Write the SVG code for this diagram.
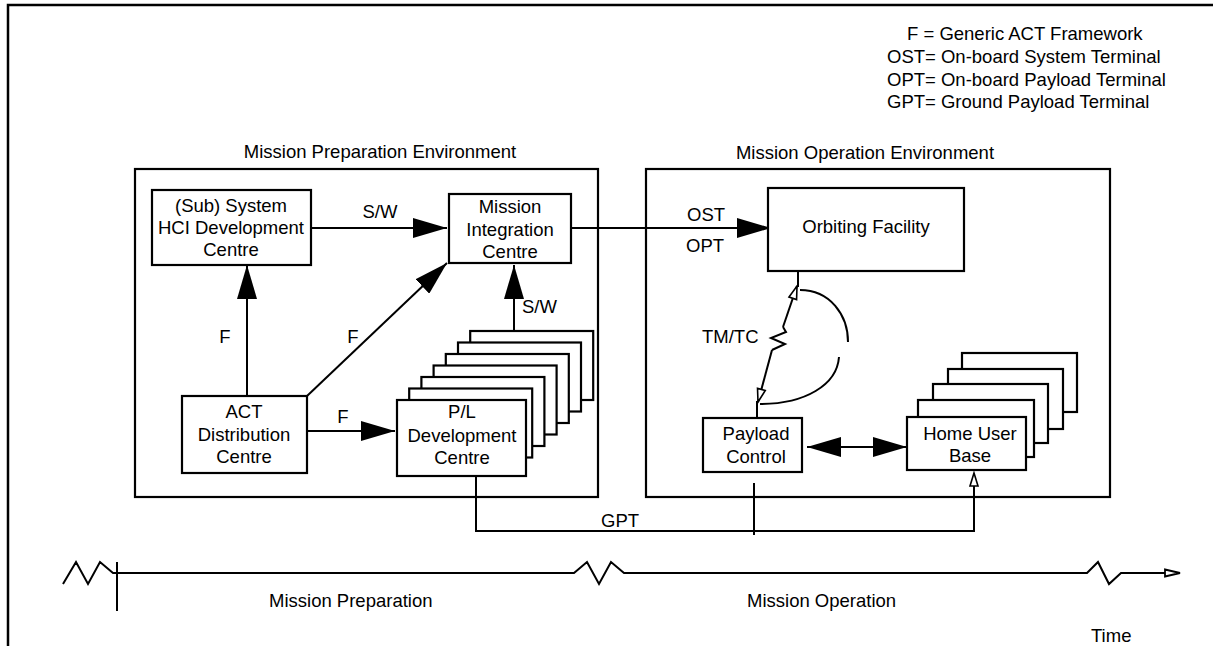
<svg xmlns="http://www.w3.org/2000/svg" width="1213" height="646" viewBox="0 0 1213 646">
<defs>
<style>
text{font-family:"Liberation Sans",Arial,sans-serif;font-size:18.5px;fill:#000}
.m{text-anchor:middle}
.box{fill:#fff;stroke:#000;stroke-width:2.2}
.env{fill:none;stroke:#000;stroke-width:2.2}
.ln{fill:none;stroke:#000;stroke-width:2}
.fa{marker-end:url(#fa)}
.oa{marker-end:url(#oa)}
</style>
<marker id="fa" markerUnits="userSpaceOnUse" markerWidth="34" markerHeight="20" refX="34" refY="10" orient="auto-start-reverse"><path d="M0,0 L34,10 L0,20 z" fill="#000"/></marker>
<marker id="oa" markerUnits="userSpaceOnUse" markerWidth="16" markerHeight="12" refX="14" refY="5" orient="auto" overflow="visible"><path d="M1,1 L14,5 L1,9 z" fill="#fff" stroke="#000" stroke-width="1.6"/></marker>
<marker id="ta" markerUnits="userSpaceOnUse" markerWidth="18" markerHeight="10" refX="16" refY="4" orient="auto" overflow="visible"><path d="M1,0.5 L16,4 L1,7.5 z" fill="#fff" stroke="#000" stroke-width="1.8"/></marker>
</defs>
<rect width="1213" height="646" fill="#fff"/>
<path d="M8,646 L8,5 L1213,5" fill="none" stroke="#000" stroke-width="2.5"/>

<g id="legend">
<text x="907" y="40">F = Generic ACT Framework</text>
<text x="887" y="63">OST= On-board System Terminal</text>
<text x="887" y="86">OPT= On-board Payload Terminal</text>
<text x="887" y="108">GPT= Ground Payload Terminal</text>
</g>

<g id="prep-env">
<text class="m" x="380" y="158">Mission Preparation Environment</text>
<rect class="env" x="135" y="169" width="463" height="328"/>
</g>
<g id="op-env">
<text class="m" x="865" y="159">Mission Operation Environment</text>
<rect class="env" x="646" y="169" width="464" height="328"/>
</g>

<g id="connectors">
<path class="ln fa" d="M311,228 L447,228"/>
<path class="ln fa" d="M247,396 L247,265"/>
<path class="ln fa" d="M307,396 L447,263"/>
<path class="ln fa" d="M307,431 L395,431"/>
<path class="ln fa" d="M514,331 L514,265"/>
<path class="ln fa" d="M560,228 L771,228"/>
<path class="ln" d="M476,472 L476,531 L974,531 L974,486"/>
<path d="M974,473 L978,486 L970,486 z" fill="#fff" stroke="#000" stroke-width="1.6"/>
<path class="ln" d="M754,483 L754,535"/>
<path class="ln" d="M798,271 L798,287"/>
<path class="ln" d="M757,418 L757,401"/>
<path class="ln oa" d="M772,350 L758,402"/>
<path class="ln oa" d="M783,327 L797,286"/>
<path class="ln" d="M772,350 L785,344 L771,338 L786,332 L783,327"/>
<path class="ln" d="M800,290 C830,290 848,315 848,342"/>
<path class="ln" d="M839,357 C837,385 805,404 760,404"/>
<path class="ln" d="M807,447 L907,447" marker-start="url(#fa)" marker-end="url(#fa)"/>
<text class="m" x="380" y="218">S/W</text>
<text x="522" y="313">S/W</text>
<text class="m" x="225" y="343">F</text>
<text class="m" x="353" y="343">F</text>
<text class="m" x="343" y="423">F</text>
<text x="687" y="221">OST</text>
<text x="686" y="252">OPT</text>
<text x="702" y="343">TM/TC</text>
<text x="601" y="527">GPT</text>
</g>

<g id="hci">
<rect class="box" x="152" y="190" width="159" height="75"/>
<text class="m" x="231" y="212">(Sub) System</text>
<text class="m" x="231" y="234">HCI Development</text>
<text class="m" x="231" y="256">Centre</text>
</g>
<g id="mic">
<rect class="box" x="449" y="194" width="122" height="69"/>
<text class="m" x="510" y="213">Mission</text>
<text class="m" x="510" y="236">Integration</text>
<text class="m" x="510" y="258">Centre</text>
</g>
<g id="act">
<rect class="box" x="182" y="396" width="125" height="77"/>
<text class="m" x="244" y="418">ACT</text>
<text class="m" x="244" y="441">Distribution</text>
<text class="m" x="244" y="463">Centre</text>
</g>
<g id="pl">
<rect class="box" x="470.2" y="331" width="123" height="69"/>
<rect class="box" x="458" y="342.5" width="123" height="69"/>
<rect class="box" x="445.8" y="354" width="123" height="69"/>
<rect class="box" x="433.6" y="365.5" width="123" height="69"/>
<rect class="box" x="421.4" y="377" width="123" height="69"/>
<rect class="box" x="409.2" y="388.5" width="123" height="69"/>
<rect class="box" x="397" y="400" width="129" height="76"/>
<text class="m" x="462" y="418">P/L</text>
<text class="m" x="462" y="442">Development</text>
<text class="m" x="462" y="464">Centre</text>
</g>
<g id="of">
<rect class="box" x="768" y="188" width="196" height="83"/>
<text class="m" x="866" y="233">Orbiting Facility</text>
</g>
<g id="pc">
<rect class="box" x="703" y="418" width="99" height="54"/>
<text class="m" x="756" y="440">Payload</text>
<text class="m" x="756" y="463">Control</text>
</g>
<g id="hub">
<rect class="box" x="962" y="353" width="115" height="59"/>
<rect class="box" x="948" y="369" width="115" height="60"/>
<rect class="box" x="933" y="384" width="115" height="59"/>
<rect class="box" x="918" y="400" width="116" height="57"/>
<rect class="box" x="907" y="417" width="119" height="53"/>
<text class="m" x="970" y="440">Home User</text>
<text class="m" x="970" y="462">Base</text>
</g>

<g id="timeline">
<path class="ln" d="M63,584 L76,562 L88,584 L100,562 L113,573 L574,573 L587,562 L599,584 L611,562 L624,573 L1087,573 L1098,562 L1109,584 L1121,573 L1180,573" marker-end="url(#ta)"/>
<path class="ln" d="M117,562 L117,611"/>
<text x="269" y="607">Mission Preparation</text>
<text x="747" y="607">Mission Operation</text>
<text x="1091" y="642">Time</text>
</g>
</svg>
